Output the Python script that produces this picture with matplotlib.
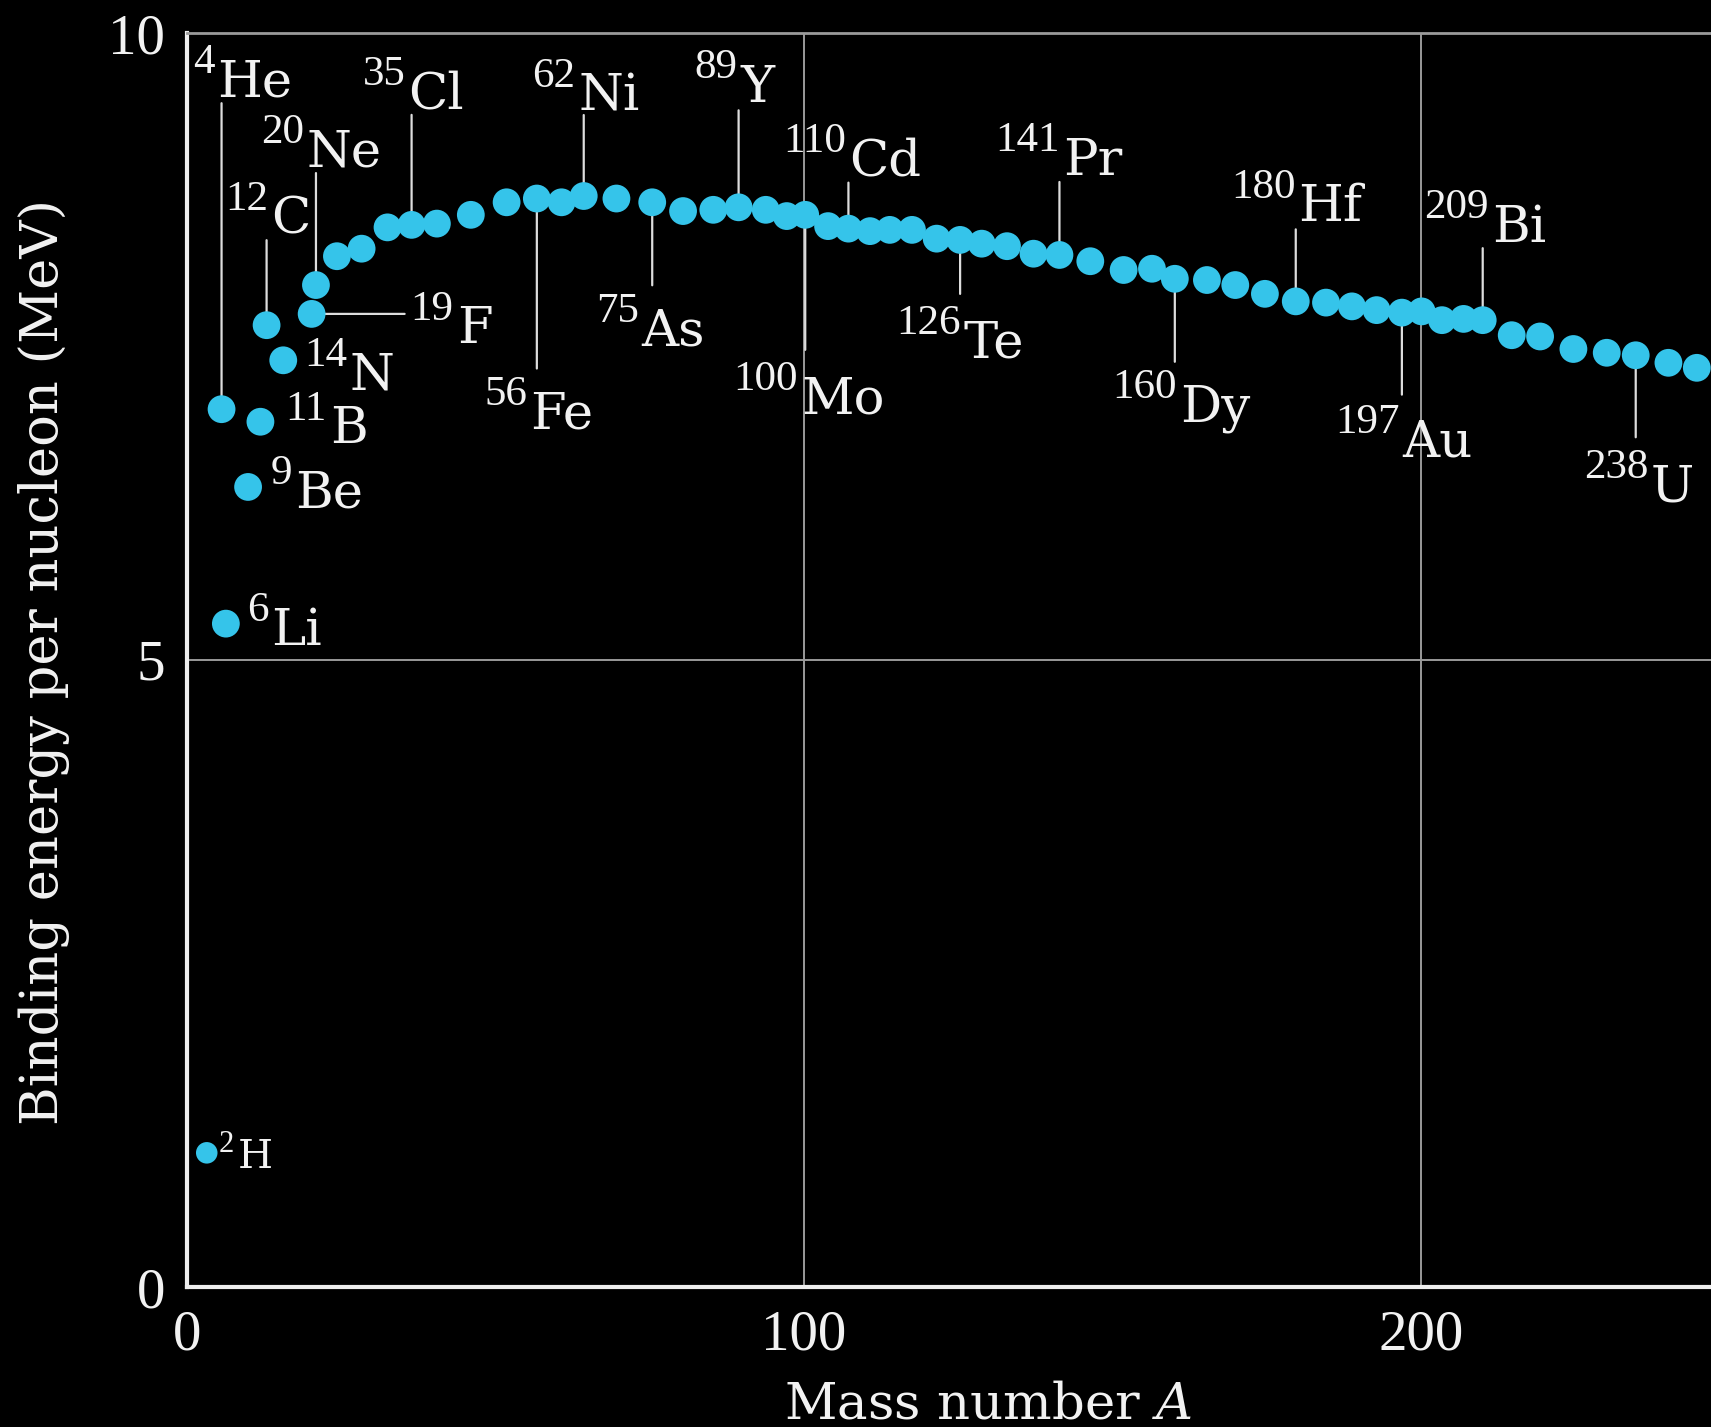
import matplotlib
matplotlib.use('Agg')
import matplotlib.pyplot as plt

# labelled nuclides: symbol, mass number, plotted A and binding energy per nucleon (MeV)
lab_sym = ['H', 'He', 'Li', 'Be', 'B', 'C', 'N', 'F', 'Ne', 'Cl', 'Fe', 'Ni',
           'As', 'Y', 'Mo', 'Cd', 'Te', 'Pr', 'Dy', 'Hf', 'Au', 'Bi', 'U']
lab_mass = ['2', '4', '6', '9', '11', '12', '14', '19', '20', '35', '56', '62',
            '75', '89', '100', '110', '126', '141', '160', '180', '197', '209', '238']
lab_A = [3.2, 5.6, 6.3, 9.9, 11.9, 12.9, 15.6, 20.2, 20.9, 36.4, 56.7, 64.3,
         75.4, 89.4, 100.2, 107.2, 125.3, 141.4, 160.1, 179.7, 196.9, 210.0, 234.8]
lab_BE = [1.07, 7.00, 5.29, 6.38, 6.90, 7.67, 7.39, 7.76, 7.99, 8.47, 8.68, 8.70,
          8.65, 8.61, 8.55, 8.44, 8.35, 8.23, 8.04, 7.86, 7.77, 7.71, 7.43]

# the other (unlabelled) nuclides
other_A = [24.3, 28.3, 32.5, 40.5, 46.0, 51.8, 60.7, 69.6, 80.4, 85.3, 93.8, 97.2,
           103.9, 110.7, 113.9, 117.5, 121.5, 128.8, 132.9, 137.2, 146.4, 151.8,
           156.4, 165.3, 169.9, 174.7, 184.6, 188.8, 192.8, 200.1, 203.4, 206.9,
           214.7, 219.3, 224.7, 230.1, 240.1, 244.7]
other_BE = [8.22, 8.28, 8.45, 8.48, 8.55, 8.65, 8.65, 8.68, 8.58, 8.59, 8.59, 8.54,
            8.46, 8.42, 8.43, 8.43, 8.36, 8.32, 8.30, 8.24, 8.18, 8.11,
            8.12, 8.03, 7.99, 7.92, 7.85, 7.82, 7.79, 7.78, 7.71, 7.72,
            7.59, 7.58, 7.48, 7.45, 7.37, 7.33]

# where each label sits relative to its dot (pixels): symbol dx, dy, leader end
layout = {
    'H': (30.6, -15.6, None), 'He': (-4.3, 312.5, (0, 306)),
    'Li': (45.7, -21, None), 'Be': (46.7, -21, None), 'B': (69.5, -21.6, None),
    'C': (5, 91.7, (0, 85)), 'N': (66.7, -29.3, None), 'F': (145, -29.3, (93, 0)),
    'Ne': (-9, 118.3, (0, 112)), 'Cl': (-3.4, 116.7, (0, 110)),
    'Fe': (-6.7, -230, (0, -170)), 'Ni': (-5.7, 86, (0, 81)),
    'As': (-10.6, -143.3, (0, -83)), 'Y': (1.4, 105.6, (0, 97)),
    'Mo': (-4, -198.3, (0, -135)), 'Cd': (0.4, 53.3, (0, 46)),
    'Te': (3.6, -117.4, (0, -54)), 'Pr': (3.7, 80, (0, 73)),
    'Dy': (5.4, -142.4, (0, -83)), 'Hf': (2.5, 80, (0, 72)),
    'Au': (0.5, -144, (0, -82)), 'Bi': (9, 78.3, (0, 72)),
    'U': (15.3, -146.7, (0, -82)),
}

dot_col = '#35c4ea'
txt_col = '#f2f2f2'
plt.rcParams['font.family'] = 'Liberation Serif'
plt.rcParams['mathtext.fontset'] = 'dejavuserif'

fig = plt.figure(figsize=(17.11, 14.27), dpi=100, facecolor='black')
ax = fig.add_axes([187 / 1711, 140 / 1427, 1 - 187 / 1711, 1254 / 1427])
ax.set_facecolor('black')

ax.scatter(other_A, other_BE, s=20 ** 2, color=dot_col, edgecolors='none', zorder=3)
ax.scatter(lab_A[1:], lab_BE[1:], s=20 ** 2, color=dot_col, edgecolors='none', zorder=3)
ax.scatter(lab_A[:1], lab_BE[:1], s=15.5 ** 2, color=dot_col, edgecolors='none', zorder=3)

for i, sym in enumerate(lab_sym):
    dx, dy, lead = layout[sym]
    pt = (lab_A[i], lab_BE[i])
    small = sym == 'H'
    ax.annotate(sym, pt, xytext=(dx, dy), textcoords='offset pixels',
                ha='left', va='baseline', color=txt_col, family='DejaVu Serif',
                fontsize=29 if small else 37, zorder=4)
    ax.annotate(lab_mass[i], pt, xytext=(dx - 3, dy + (16 if small else 23.5)),
                textcoords='offset pixels', ha='right', va='baseline',
                color=txt_col, fontsize=22 if small else 31, zorder=4)
    if lead is not None:
        ax.annotate('', pt, xytext=lead, textcoords='offset pixels', zorder=2,
                    arrowprops=dict(arrowstyle='-', color='#dddddd', lw=1.6,
                                    shrinkA=0, shrinkB=0))

ax.set_xlim(0, 247)
ax.set_ylim(0, 10)
ax.set_xticks([0, 100, 200])
ax.set_yticks([0, 5, 10])
ax.grid(True, color='#9a9a9a', lw=1.4)
ax.set_axisbelow(True)
ax.tick_params(length=0, pad=16, labelsize=41, labelcolor=txt_col)
for side in ['left', 'bottom']:
    ax.spines[side].set_color('#eeeeee')
    ax.spines[side].set_linewidth(3)
ax.spines['top'].set_color('#9a9a9a')
ax.spines['top'].set_linewidth(2)
ax.spines['right'].set_visible(False)

fig.text(44 / 1711, 1 - 662 / 1427, 'Binding energy per nucleon (MeV)', rotation=90,
         ha='center', va='center', fontsize=38, color=txt_col, family='DejaVu Serif')
fig.text(988 / 1711, 8.5 / 1427, r'Mass number $A$', ha='center', va='baseline',
         fontsize=37, color=txt_col, family='DejaVu Serif')

fig.savefig('out.png', dpi=100, facecolor='black')
